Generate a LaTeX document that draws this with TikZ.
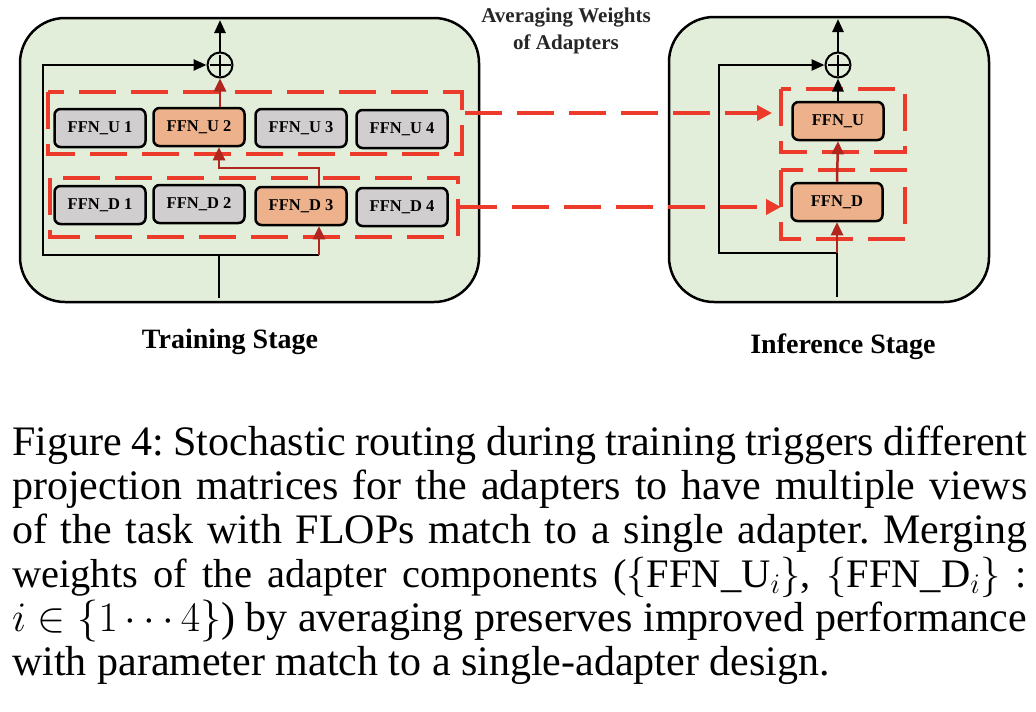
\RequirePackage{fix-cm}
\documentclass[tikz,border=0pt]{standalone}
\usepackage{fontspec}
\setmainfont{Liberation Serif}
\usetikzlibrary{arrows.meta}
\definecolor{boxgreen}{HTML}{E2EED9}
\definecolor{ffngray}{HTML}{D0CECE}
\definecolor{ffnorange}{HTML}{EDB28B}
\definecolor{dashred}{HTML}{EC3A2B}
\definecolor{darkred}{HTML}{B0251E}
\newcommand{\capline}[1]{\makebox[1015pt][s]{#1}}
\begin{document}
\begin{tikzpicture}[x=1pt,y=-1pt,
  stagebox/.style={draw=black, line width=2.5pt, fill=boxgreen, rounded corners=45pt},
  ffn/.style={draw=black, line width=2.5pt, rounded corners=6pt, minimum width=91pt,
    minimum height=38pt, inner sep=0pt, font=\fontsize{16.5}{18}\selectfont\bfseries},
  ffnG/.style={ffn, fill=ffngray},
  ffnO/.style={ffn, fill=ffnorange},
  redbox/.style={draw=dashred, line width=4pt, dash pattern=on 37pt off 15pt},
  blkline/.style={draw=black, line width=2.5pt},
  blk/.style={draw=black, line width=2.5pt, -{Triangle[length=13pt,width=11pt]}},
  redarr/.style={draw=darkred, line width=2.5pt, -{Triangle[length=13pt,width=12pt]}},
  dasharr/.style={draw=dashred, line width=4pt, dash pattern=on 37pt off 15pt,
    -{Triangle[length=15pt,width=15pt]}},
  plusnode/.style={circle, draw=black, line width=2pt, minimum size=25pt, inner sep=0pt, fill=boxgreen},
  plusbar/.style={draw=black, line width=2pt},
  caption/.style={anchor=base west, inner sep=0pt, font=\fontsize{42}{44}\selectfont},
  stagelbl/.style={font=\fontsize{28}{30}\selectfont\bfseries, inner sep=0pt}
]
\useasboundingbox[fill=white] (0,0) rectangle (1036,712);

% containers
\draw[stagebox] (20,18) rectangle (479,302);
\draw[stagebox] (669,17) rectangle (989,302);

% plus nodes
\node[plusnode] (plusL) at (220,65) {};
\draw[plusbar] ([yshift=-3pt]plusL.north) -- ([yshift=3pt]plusL.south);
\draw[plusbar] ([xshift=3pt]plusL.west) -- ([xshift=-3pt]plusL.east);
\node[plusnode] (plusR) at (838,65) {};
\draw[plusbar] ([yshift=-3pt]plusR.north) -- ([yshift=3pt]plusR.south);
\draw[plusbar] ([xshift=3pt]plusR.west) -- ([xshift=-3pt]plusR.east);

% output arrows
\coordinate (outL) at (220,20);
\coordinate (outR) at (838,19);
\draw[blk] (plusL.north) -- (outL);
\draw[blk] (plusR.north) -- (outR);

% left black lines
\coordinate (inL) at (219,298);
\draw[blk] (inL) |- (43,255) -- (43,65) -- (plusL.west);
\draw[blkline] (219,255) -- (319,255);

% right black lines
\coordinate (inR) at (837,297);
\draw[blk] (inR) |- (719,253) -- (719,65) -- (plusR.west);

% dashed red groups
\draw[redbox] (48,92) rectangle (462,154);
\draw[redbox] (50,178) rectangle (458,237);
\draw[redbox] (781,89) rectangle (905,152);
\draw[redbox] (781,170) rectangle (905,239);

% FFN nodes training
\node[ffnG] (U1) at (100,128) {FFN\_U 1};
\node[ffnO] (U2) at (199,127) {FFN\_U 2};
\node[ffnG] (U3) at (301,128) {FFN\_U 3};
\node[ffnG] (U4) at (402,129) {FFN\_U 4};
\node[ffnG] (D1) at (100,205) {FFN\_D 1};
\node[ffnG] (D2) at (199,204) {FFN\_D 2};
\node[ffnO] (D3) at (301,206) {FFN\_D 3};
\node[ffnG] (D4) at (402,207) {FFN\_D 4};

% FFN nodes inference
\node[ffnO] (FU) at (838,121) {FFN\_U};
\node[ffnO] (FD) at (837,202) {FFN\_D};

% red routing arrows
\draw[redarr] (319,255) -- (D3.south -| 319,0);
\draw[redarr] (D3.north -| 319,0) -- (319,168) -- (219,168) -- (U2.south -| 219,0);
\draw[redarr] (U2.north -| plusL.south) -- (plusL.south);
\draw[redarr] (837,253) -- (FD.south);
\draw[redarr] (FD.north) -- (FU.south);
\draw[blk] (FU.north) -- (plusR.south);

% dashed transfer arrows
\coordinate (upS) at (465,113);
\coordinate (upE) at (772,113);
\coordinate (dnS) at (460,207);
\coordinate (dnE) at (781,207);
\draw[dasharr] (upS) -- (upE);
\draw[dasharr] (dnS) -- (dnE);

% labels
\node[font=\fontsize{21}{27}\selectfont\bfseries, align=center, text=black!85] (avg) at (566,31) {Averaging Weights\\of Adapters};
\node[stagelbl] (trainlbl) at (230,342) {Training Stage};
\node[stagelbl] (inflbl) at (843,347) {Inference Stage};

% caption
\frenchspacing
\node[caption] (c1) at (12,455) {\capline{Figure 4: Stochastic routing during training triggers different}};
\node[caption] (c2) at (12,499) {\capline{projection matrices for the adapters to have multiple views}};
\node[caption] (c3) at (12,543) {\capline{of the task with FLOPs match to a single adapter. Merging}};
\node[caption, font=\fontsize{40.5}{44}\selectfont] (c4) at (12,587) {\capline{weights of the adapter components (\mbox{$\{\mbox{FFN\_U}_i\}$,} \mbox{$\{\mbox{FFN\_D}_i\}$} :}};
\node[caption] (c5) at (12,631) {\capline{\mbox{$i\in\{1\cdots4\}$}) by averaging preserves improved performance}};
\node[caption] (c6) at (12,675) {with parameter match to a single-adapter design.};
\end{tikzpicture}
\end{document}
